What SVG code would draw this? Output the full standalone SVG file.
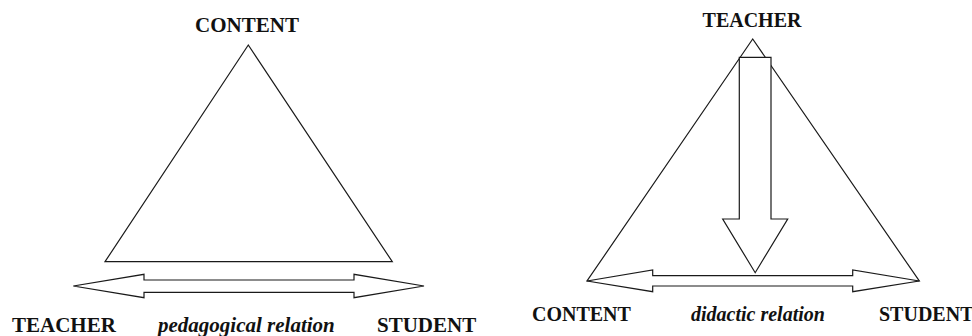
<svg xmlns="http://www.w3.org/2000/svg" width="972" height="336" viewBox="0 0 972 336">
<style>
.bg{fill:#ffffff}
.shape{fill:#ffffff;stroke:#1a1a1a;stroke-width:1.2;stroke-linejoin:miter}
.lbl{font-family:"Liberation Serif","Times New Roman",serif;font-weight:bold;fill:#111111}
.it{font-style:italic}
.l{font-size:21px}
.r{font-size:20px}
</style>
<rect class="bg" x="0" y="0" width="972" height="336"/>
<g id="left-triangle">
<polygon class="shape" points="248.3,45 105,261.7 392.3,261.7"/>
</g>
<g id="right-triangle">
<polygon class="shape" points="752.7,39 587,281 919.3,281"/>
</g>
<g id="connectors">
<polygon id="pedagogical-arrow" class="shape" points="73.3,286 144,274.3 144,280 354,280 354,274.3 424,286 354,297.7 354,292.3 144,292.3 144,297.7"/>
<polygon id="teacher-down-arrow" class="shape" points="739.3,57.3 771,57.3 771,219 787.7,219 755.2,272.7 722.7,219 739.3,219"/>
<polygon id="didactic-arrow" class="shape" points="587,281 652.7,270 652.7,275.7 852.7,275.7 852.7,270 919.3,281 852.7,291.7 852.7,286 652.7,286 652.7,291.7"/>
</g>
<g id="left-content"><text class="lbl l" x="247" y="32" text-anchor="middle">CONTENT</text></g>
<g id="left-teacher"><text class="lbl l" x="12" y="332">TEACHER</text></g>
<g id="left-relation"><text class="lbl l it" x="158" y="332">pedagogical relation</text></g>
<g id="left-student"><text class="lbl l" x="377" y="332">STUDENT</text></g>
<g id="right-teacher"><text class="lbl r" x="752" y="27" text-anchor="middle">TEACHER</text></g>
<g id="right-content"><text class="lbl r" x="532" y="321">CONTENT</text></g>
<g id="right-relation"><text class="lbl r it" x="691" y="321">didactic relation</text></g>
<g id="right-student"><text class="lbl r" x="879" y="321">STUDENT</text></g>
</svg>
